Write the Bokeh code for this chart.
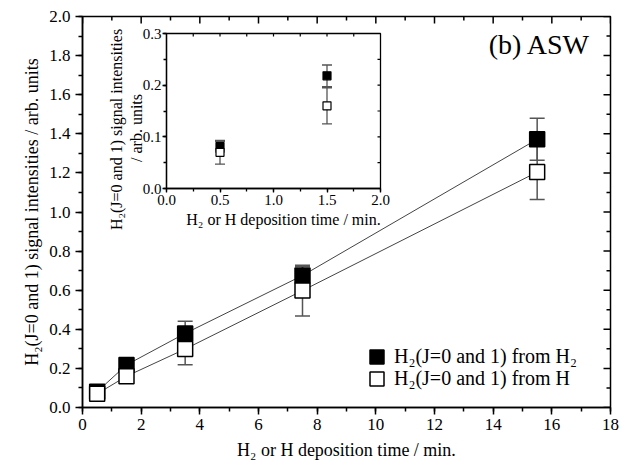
import numpy as np
from bokeh.plotting import figure
from bokeh.models import (Range1d, LinearAxis, SingleIntervalTicker, NumeralTickFormatter,
                          Whisker, TeeHead, ColumnDataSource, Legend, LegendItem, Label)
from bokeh.embed import file_html
from bokeh.resources import INLINE

# ---------------- data ----------------
time_min = [0.5, 1.5, 3.5, 7.5, 15.5]
sig_from_h2 = [0.081, 0.218, 0.379, 0.675, 1.372]
err_from_h2 = [0.010, 0.021, 0.062, 0.048, 0.107]
sig_from_h = [0.070, 0.160, 0.299, 0.598, 1.204]
err_from_h = [0.023, 0.035, 0.080, 0.130, 0.140]

# inset shows the first two deposition times
n_inset = 2
inset_time = time_min[:n_inset]
inset_h2 = sig_from_h2[:n_inset]
inset_h2_err = err_from_h2[:n_inset]
inset_h = sig_from_h[:n_inset]
inset_h_err = err_from_h[:n_inset]

x_limits = (0, 18)
y_limits = (0, 2.0)
x_major, y_major = 2, 0.2
inset_x_limits = (0, 2.0)
inset_y_limits = (0, 0.3)
ix_major, iy_major = 0.5, 0.1

label_h2 = "H\u2082(J=0 and 1) from H\u2082"
label_h = "H\u2082(J=0 and 1) from H"
x_title = "H\u2082 or H deposition time / min."
y_title = "H\u2082(J=0 and 1) signal intensities / arb. units"
inset_y_title_1 = "H\u2082(J=0 and 1) signal intensities"
inset_y_title_2 = "/ arb. units"
panel_title = "(b) ASW"

FONT = "Liberation Serif"
LINE_GRAY = "#444444"
ERR_GRAY = "#555555"
EPS = 1e-9

# ---------------- layout (canvas px) ----------------
W, H = 628, 466
FL, FR, FT, FB = 82, 610, 16, 407                   # main frame box
IL, IR, IT, IB = 166, 380, 33, 188                  # inset frame box

p = figure(width=W, height=H, x_range=Range1d(*x_limits), y_range=Range1d(*y_limits),
           output_backend="svg", toolbar_location=None,
           min_border_left=FL, min_border_right=W - FR,
           min_border_top=FT, min_border_bottom=H - FB)
p.outline_line_color = "black"
p.outline_line_width = 1.5
p.grid.visible = False
p.background_fill_color = "white"

# inset coordinate system mapped over the whole frame
ix_per = (IR - IL) / (inset_x_limits[1] - inset_x_limits[0])
iy_per = (IB - IT) / (inset_y_limits[1] - inset_y_limits[0])
p.extra_x_ranges = {"ix": Range1d(inset_x_limits[0] - (IL - FL) / ix_per,
                                  inset_x_limits[1] + (FR - IR) / ix_per)}
p.extra_y_ranges = {"iy": Range1d(inset_y_limits[0] - (FB - IB) / iy_per,
                                  inset_y_limits[1] + (IT - FT) / iy_per)}
INSET = dict(x_range_name="ix", y_range_name="iy")
y_per = (FB - FT) / (y_limits[1] - y_limits[0])
x_per = (FR - FL) / (x_limits[1] - x_limits[0])


def mx(px):
    return x_limits[0] + (px - FL) / x_per


def my(py):
    return y_limits[0] + (FB - py) / y_per


def ix(px):
    return inset_x_limits[0] + (px - IL) / ix_per


def iy(py):
    return inset_y_limits[0] + (IB - py) / iy_per


def style_axis(ax, tick_size, major_out, minor_out, lw=1.5, label_size="18px"):
    ax.axis_line_width = lw
    ax.major_tick_line_width = lw
    ax.minor_tick_line_width = lw
    ax.major_tick_in = 0
    ax.major_tick_out = major_out
    ax.minor_tick_in = 0
    ax.minor_tick_out = minor_out
    ax.major_label_text_font = FONT
    ax.major_label_text_font_size = tick_size
    ax.major_label_text_color = "black"
    ax.axis_label_text_font = FONT
    ax.axis_label_text_font_style = "normal"
    ax.axis_label_text_font_size = label_size
    ax.axis_label_text_color = "black"


# ---- main axes ----
xa = p.xaxis[0]
xa.ticker = SingleIntervalTicker(interval=x_major, num_minor_ticks=2)
xa.formatter = NumeralTickFormatter(format="0")
xa.axis_label = x_title
style_axis(xa, "17px", 7, 4)
xa.major_label_standoff = 4
xa.axis_label_standoff = 7

ya = p.yaxis[0]
ya.ticker = SingleIntervalTicker(interval=y_major, num_minor_ticks=2)
ya.formatter = NumeralTickFormatter(format="0.0")
ya.axis_label = y_title
style_axis(ya, "17px", 7, 4)
ya.major_label_standoff = 5
ya.axis_label_standoff = 4


def inward_ticks(positions, fixed, horizontal, length, lw, **kw):
    """Ticks along the top (horizontal) or right edge, pointing into the frame."""
    pos = list(positions)
    if horizontal:
        p.ray(x=pos, y=[fixed] * len(pos), length=length, length_units="screen",
              angle=-np.pi / 2, line_color="black", line_width=lw, **kw)
    else:
        p.ray(x=[fixed] * len(pos), y=pos, length=length, length_units="screen",
              angle=np.pi, line_color="black", line_width=lw, **kw)


# main top / right ticks
inward_ticks(np.arange(x_limits[0], x_limits[1] + EPS, x_major), y_limits[1], True, 7, 1.5)
inward_ticks(np.arange(x_limits[0] + x_major / 2, x_limits[1], x_major), y_limits[1], True, 4, 1.5)
inward_ticks(np.arange(y_limits[0], y_limits[1] + EPS, y_major), x_limits[1], False, 7, 1.5)
inward_ticks(np.arange(y_limits[0] + y_major / 2, y_limits[1], y_major), x_limits[1], False, 4, 1.5)

# ---- inset frame ----
p.quad(left=[inset_x_limits[0]], right=[inset_x_limits[1]],
       bottom=[inset_y_limits[0]], top=[inset_y_limits[1]],
       fill_color="white", line_color="black", line_width=1.3, level="underlay", **INSET)

# ---- main error bars ----
for sig, err in ((sig_from_h2, err_from_h2), (sig_from_h, err_from_h)):
    src = ColumnDataSource(dict(x=time_min,
                                lo=[s - e for s, e in zip(sig, err)],
                                hi=[s + e for s, e in zip(sig, err)]))
    p.add_layout(Whisker(source=src, base="x", lower="lo", upper="hi", dimension="height",
                         line_color=ERR_GRAY, line_width=1.5,
                         upper_head=TeeHead(size=15, line_color=ERR_GRAY, line_width=1.5),
                         lower_head=TeeHead(size=15, line_color=ERR_GRAY, line_width=1.5)))

# ---- inset error bars ----
for sig, err in ((inset_h2, inset_h2_err), (inset_h, inset_h_err)):
    src = ColumnDataSource(dict(x=inset_time,
                                lo=[s - e for s, e in zip(sig, err)],
                                hi=[s + e for s, e in zip(sig, err)]))
    p.add_layout(Whisker(source=src, base="x", lower="lo", upper="hi", dimension="height",
                         line_color=ERR_GRAY, line_width=1.3,
                         upper_head=TeeHead(size=10, line_color=ERR_GRAY, line_width=1.3),
                         lower_head=TeeHead(size=10, line_color=ERR_GRAY, line_width=1.3),
                         **INSET))

# ---- main lines & markers ----
p.line(time_min, sig_from_h2, line_color=LINE_GRAY, line_width=1)
p.line(time_min, sig_from_h, line_color=LINE_GRAY, line_width=1)
r_h2 = p.scatter(time_min, sig_from_h2, marker="square", size=15,
                 fill_color="black", line_color="black", line_width=1.5)
r_h = p.scatter(time_min, sig_from_h, marker="square", size=15,
                fill_color="white", line_color="black", line_width=1.5)

# ---- inset markers ----
p.scatter(inset_time, inset_h2, marker="square", size=8, fill_color="black",
          line_color="black", line_width=1.2, **INSET)
p.scatter(inset_time, inset_h, marker="square", size=8, fill_color="white",
          line_color="black", line_width=1.2, **INSET)

# ---- inset axes (bottom / left) ----
ib = LinearAxis(fixed_location=inset_y_limits[0],
                bounds=(inset_x_limits[0], inset_x_limits[1] + EPS),
                ticker=SingleIntervalTicker(interval=ix_major, num_minor_ticks=2),
                formatter=NumeralTickFormatter(format="0.0"), **INSET)
style_axis(ib, "15px", 4, 3, lw=1.3)
ib.major_label_standoff = 2
p.add_layout(ib, "below")

il = LinearAxis(fixed_location=inset_x_limits[0],
                bounds=(inset_y_limits[0], inset_y_limits[1] + EPS),
                ticker=SingleIntervalTicker(interval=iy_major, num_minor_ticks=2),
                formatter=NumeralTickFormatter(format="0.0"), **INSET)
style_axis(il, "15px", 4, 3, lw=1.3)
il.major_label_standoff = 1
p.add_layout(il, "left")

# inset top / right ticks (inward)
inward_ticks(np.arange(inset_x_limits[0] + ix_major / 2, inset_x_limits[1] - EPS, ix_major / 2),
             inset_y_limits[1], True, 3, 1.2, **INSET)
inward_ticks(np.arange(inset_y_limits[0] + iy_major / 2, inset_y_limits[1] - EPS, iy_major / 2),
             inset_x_limits[1], False, 3, 1.2, **INSET)

# inset titles
p.add_layout(Label(x=ix(283), y=iy(219), text=x_title, text_font=FONT,
                   text_font_size="16px", text_align="center", text_baseline="alphabetic",
                   text_color="black", **INSET))
p.add_layout(Label(x=ix(116), y=iy(129), text=inset_y_title_1, angle=np.pi / 2,
                   text_font=FONT, text_font_size="16px", text_align="center",
                   text_baseline="middle", text_color="black", **INSET))
p.add_layout(Label(x=ix(136), y=iy(127.5), text=inset_y_title_2, angle=np.pi / 2,
                   text_font=FONT, text_font_size="16px", text_align="center",
                   text_baseline="middle", text_color="black", **INSET))

# ---- panel title ----
p.add_layout(Label(x=mx(590), y=my(44), text=panel_title, text_font=FONT,
                   text_font_size="28px", text_align="right",
                   text_baseline="alphabetic", text_color="black"))

# ---- legend (one box per row) ----
for item_label, rend, loc_y in ((label_h2, r_h2, 33), (label_h, r_h, 11)):
    p.add_layout(Legend(items=[LegendItem(label=item_label, renderers=[rend])],
                        location=(277, loc_y), glyph_width=35, glyph_height=35,
                        label_standoff=-1, padding=0, margin=0, border_line_color=None,
                        background_fill_alpha=0, label_text_font=FONT,
                        label_text_font_size="20px", label_text_color="black"))

open("out.html", "w").write(file_html(p, INLINE))
